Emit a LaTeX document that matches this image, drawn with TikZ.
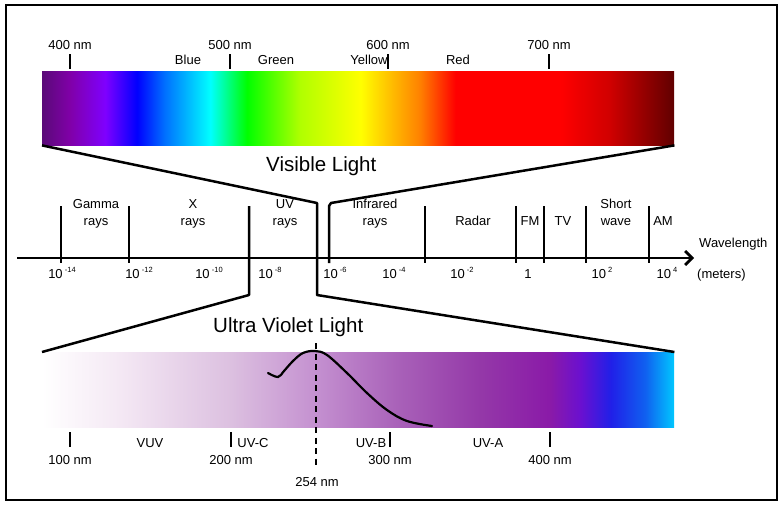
\documentclass[tikz,border=0pt]{standalone}
\usepackage{fontspec}
\setmainfont{Liberation Sans}
\usepackage{xcolor}
\usetikzlibrary{
    positioning,
    arrows.meta,
}
% Spectrum colours
\definecolor{visA}{HTML}{5A0A78}
\definecolor{visB}{HTML}{8000A8}
\definecolor{visC}{HTML}{7F00FF}
\definecolor{visD}{HTML}{0000FF}
\definecolor{visE}{HTML}{0070FF}
\definecolor{visF}{HTML}{00FFFF}
\definecolor{visG}{HTML}{00FF00}
\definecolor{visH}{HTML}{B0FF00}
\definecolor{visI}{HTML}{FFFF00}
\definecolor{visJ}{HTML}{FFC000}
\definecolor{visK}{HTML}{FF8000}
\definecolor{visL}{HTML}{FF0000}
\definecolor{visM}{HTML}{D00000}
\definecolor{visN}{HTML}{600000}
\definecolor{uvA}{HTML}{FFFFFF}
\definecolor{uvB}{HTML}{F4E8F4}
\definecolor{uvC}{HTML}{DCC0E0}
\definecolor{uvD}{HTML}{C490D0}
\definecolor{uvE}{HTML}{A860B8}
\definecolor{uvF}{HTML}{9438A8}
\definecolor{uvG}{HTML}{8A1AA8}
\definecolor{uvH}{HTML}{6A10D0}
\definecolor{uvI}{HTML}{2020E8}
\definecolor{uvJ}{HTML}{1060F0}
\definecolor{uvK}{HTML}{00C8FF}
\pgfdeclarehorizontalshading{visible spectrum}{100bp}{
    color(0bp)=(visA); color(25bp)=(visA); color(27.2bp)=(visB);
    color(30bp)=(visC); color(32.5bp)=(visD); color(34.7bp)=(visE);
    color(38.3bp)=(visF); color(41.2bp)=(visG); color(45.4bp)=(visH);
    color(50.2bp)=(visI); color(52.5bp)=(visJ); color(54.9bp)=(visK);
    color(57.7bp)=(visL); color(66bp)=(visL); color(69.9bp)=(visM);
    color(75bp)=(visN); color(100bp)=(visN)}
\pgfdeclarehorizontalshading{uv spectrum}{100bp}{
    color(0bp)=(uvA); color(25bp)=(uvA); color(31.2bp)=(uvB);
    color(39.9bp)=(uvC); color(46.7bp)=(uvD); color(53.3bp)=(uvE);
    color(59.7bp)=(uvF); color(65.2bp)=(uvG); color(67.6bp)=(uvH);
    color(70bp)=(uvI); color(72.7bp)=(uvJ); color(75bp)=(uvK);
    color(100bp)=(uvK)}
\tikzset{
    % Node styles
    spec bar/.style={rectangle, draw=none, minimum width=632pt,
                     inner sep=0pt, anchor=north west},
    lbl/.style={font=\fontsize{13}{17}\selectfont, align=center,
                anchor=base, inner sep=0pt},
    title/.style={font=\fontsize{20.5}{24}\selectfont, anchor=base west,
                  inner sep=0pt},
    % Line styles
    tick line/.style={line width=2.7pt},
    funnel/.style={line width=2.5pt, line join=round},
}
\newcommand{\tenexp}[1]{10\,\raisebox{0.42em}{\fontsize{7.5}{8}\selectfont#1}}

\begin{document}
\begin{tikzpicture}[x=1pt, y=-1pt]
    \useasboundingbox (0,0) rectangle (784,512);
    \draw[line width=2pt] (6,5) rectangle (777,500);

    % Visible light bar
    \node[spec bar, shading=visible spectrum, minimum height=74pt] (vis) at (42,71) {};
    \foreach \x/\t [count=\i] in {70/400 nm, 230/500 nm, 388/600 nm, 549/700 nm} {
        \draw[tick line] (\x,54) -- (\x,69);
        \node[lbl] (vnm\i) at (\x,49) {\t};
    }
    \foreach \x/\t [count=\i] in {188/Blue, 276/Green, 369/Yellow, 458/Red}
        \node[lbl] (vcol\i) at (\x,64) {\t};
    \node[title] (vistitle) at (266,171) {Visible Light};

    % Wavelength axis
    \coordinate (axstart) at (17,258);
    \coordinate (axend) at (694,258);
    \draw[line width=2.8pt, -{Straight Barb[length=7pt, width=14pt]}] (axstart) -- (axend);
    \foreach \x in {61,129,425,516,544,586,649}
        \draw[tick line] (\x,206) -- (\x,263);
    \foreach \x/\t [count=\i] in {96/Gamma\\rays, 193/X\\rays, 285/UV\\rays,
            375/Infrared\\rays, 473/Radar, 530/FM, 563/TV, 616/Short\\wave, 663/AM}
        \node[lbl] (band\i) at (\x,225) {\t};
    \foreach \x/\e [count=\i] in {62/-14, 139/-12, 209/-10, 270/-8, 335/-6,
            394/-4, 462/-2, 602/2, 667/4}
        \node[lbl] (pow\i) at (\x,278) {\tenexp{\e}};
    \node[lbl] (powone) at (528,278) {1};
    \node[lbl, anchor=base west] (wave) at (699,247) {Wavelength};
    \node[lbl, anchor=base west] (meters) at (697,278) {(meters)};

    % Ultra violet bar
    \node[spec bar, shading=uv spectrum, minimum height=75pt] (uv) at (42,352) {};
    \node[title] (uvtitle) at (213,332) {Ultra Violet Light};
    \foreach \x/\t [count=\i] in {70/100 nm, 231/200 nm, 390/300 nm, 550/400 nm} {
        \draw[tick line] (\x,432) -- (\x,447);
        \node[lbl] (unm\i) at (\x,464) {\t};
    }
    \foreach \x/\t [count=\i] in {150/VUV, 253/UV-C, 371/UV-B, 488/UV-A}
        \node[lbl] (uband\i) at (\x,447) {\t};
    \node[lbl] (peak) at (317,486) {254 nm};

    % Funnels
    \coordinate (vl) at (317,203);
    \coordinate (vr) at (331,203);
    \coordinate (ul) at (249,295);
    \coordinate (ur) at (317,295);
    \draw[funnel] (vis.south west) -- (vl) -- (ur) -- (uv.north east);
    \draw[funnel] (vis.south east) -- (vr) -- (329,206) -- (329,263);
    \draw[funnel] (249,206) -- (ul) -- (uv.north west);

    % Absorption curve
    \draw[line width=2.4pt, dash pattern=on 6pt off 4.5pt] (316,343) -- (316,465);
    \draw[line width=2.2pt, line cap=round] plot[smooth, tension=0.6] coordinates {
        (268,373) (278,377) (284,371) (293,361) (303,353) (315,351) (327,355)
        (347,373) (367,393) (387,410) (407,421) (432,426)};
\end{tikzpicture}
\end{document}
